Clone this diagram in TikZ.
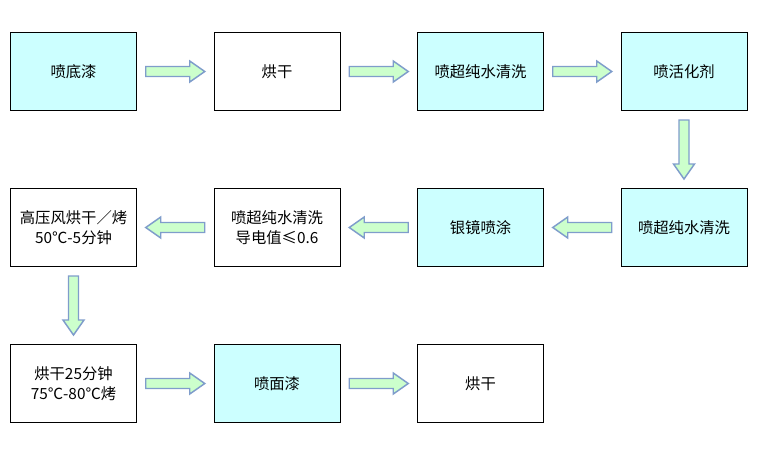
\documentclass[tikz,border=0pt]{standalone}
\usepackage{fontspec}
\setmainfont{Noto Sans CJK SC}
\usetikzlibrary{positioning,calc}
\definecolor{paleaqua}{HTML}{CCFFFF}
\definecolor{palemint}{HTML}{CCFFCC}
\definecolor{edgeblue}{HTML}{7F9DCB}

% block arrow drawn between the centres of two nodes, turned by #3
\newcommand{\flowarr}[3]{%
  \coordinate (mid) at ($(#1)!0.5!(#2)$);
  \draw[flow,shift={(mid)},rotate=#3] (-29.5,-5)--(14.5,-5)--(14.5,-10.5)--(29.5,0)
    --(14.5,10.5)--(14.5,5)--(-29.5,5)--cycle;}

\begin{document}
\begin{tikzpicture}[x=0.75pt,y=0.75pt,node distance=58.5pt and 58.125pt,
  every node/.style={align=center,font=\fontsize{11.5}{15}\selectfont},
  box/.style={draw,line width=0.75pt,minimum width=94.5pt,minimum height=58.5pt,inner sep=2pt,outer sep=0pt},
  aqua/.style={box,fill=paleaqua},
  flow/.style={fill=palemint,draw=edgeblue,line width=1.1pt,line join=miter}]
  \useasboundingbox (0,0) rectangle (771,-451);
  % first row
  \node[aqua] (primer) at (73.5,-71.5) {喷底漆};
  \node[box,right=of primer] (dryA) {烘干};
  \node[aqua,right=of dryA] (rinseA) {喷超纯水清洗};
  \node[aqua,right=of rinseA] (activate) {喷活化剂};
  % second row, right to left
  \node[aqua,below=of activate] (rinseB) {喷超纯水清洗};
  \node[aqua,left=of rinseB] (silver) {银镜喷涂};
  \node[box,left=of silver] (rinseC) {喷超纯水清洗\\导电值≤0.6};
  \node[box,left=of rinseC] (airdry) {高压风烘干／烤\\50℃-5分钟};
  % third row
  \node[box,below=of airdry] (bake) {烘干25分钟\\75℃-80℃烤};
  \node[aqua,right=of bake] (topcoat) {喷面漆};
  \node[box,right=of topcoat] (dryB) {烘干};
  \flowarr{primer}{dryA}{0} \flowarr{dryA}{rinseA}{0} \flowarr{rinseA}{activate}{0}
  \flowarr{activate}{rinseB}{-90}
  \flowarr{rinseB}{silver}{180} \flowarr{silver}{rinseC}{180} \flowarr{rinseC}{airdry}{180}
  \flowarr{airdry}{bake}{-90}
  \flowarr{bake}{topcoat}{0} \flowarr{topcoat}{dryB}{0}
\end{tikzpicture}
\end{document}
